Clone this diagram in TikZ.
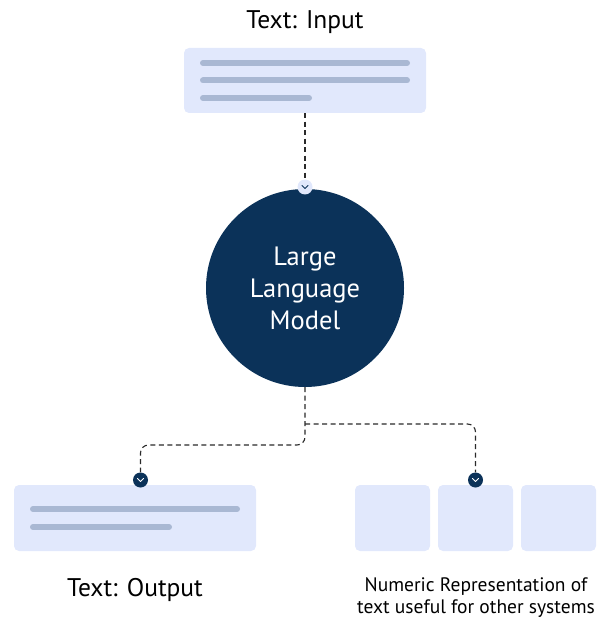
\documentclass[tikz,border=0pt]{standalone}
\usepackage{fontspec}
\setmainfont{PT Sans}
\definecolor{boxfill}{HTML}{E1E8FC}
\definecolor{barcol}{HTML}{A9B8D3}
\definecolor{navy}{HTML}{0B3259}
\definecolor{dashcol}{HTML}{2A2A2A}
\begin{document}
\begin{tikzpicture}[x=1pt,y=-1pt,
  panel/.style={rectangle, rounded corners=5pt, fill=boxfill, inner sep=0pt},
  bar/.style={line width=6pt, line cap=round, barcol},
  conn/.style={draw=dashcol, line width=1.1pt, dash pattern=on 5pt off 3.5pt, rounded corners=8pt},
  chevdark/.style={circle, fill=navy, minimum size=15pt, inner sep=0pt},
  chevlight/.style={circle, fill=boxfill, minimum size=15pt, inner sep=0pt},
  lbl/.style={font=\fontsize{25.5}{30}\selectfont, text=black}
]
\useasboundingbox (0,0) rectangle (596,620);
% title
\node[lbl] (tin) at (305,22.5) {Text: Input};
% input panel
\node[panel, minimum width=242pt, minimum height=65pt] (inbox) at (305,80.5) {};
\draw[bar] (203,63) -- (407,63);
\draw[bar] (203,80.5) -- (407,80.5);
\draw[bar] (203,98) -- (309,98);
% LLM circle
\node[circle, fill=navy, minimum size=198pt, inner sep=0pt, align=center, text=white,
      font=\fontsize{26.5}{32}\selectfont] (llm) at (305,288) {Large\\Language\\Model};
% top chevron
\node[chevlight] (cin) at (305,187) {};
\draw[navy, line width=1pt, line cap=round, line join=round] ([xshift=-3pt,yshift=1.5pt]cin.center) -- ([yshift=-1.5pt]cin.center) -- ([xshift=3pt,yshift=1.5pt]cin.center);
\draw[conn] (inbox.south) -- (cin.north);
% output panel
\node[panel, minimum width=242pt, minimum height=66pt] (outbox) at (135,518) {};
\draw[bar] (33,509) -- (237,509);
\draw[bar] (33,527) -- (169,527);
\node[lbl] (tout) at (135,590) {Text: Output};
% numeric squares
\node[panel, minimum width=75pt, minimum height=66pt] (sq1) at (392.5,518) {};
\node[panel, minimum width=75pt, minimum height=66pt] (sq2) at (475.5,518) {};
\node[panel, minimum width=75pt, minimum height=66pt] (sq3) at (558.5,518) {};
\node[align=center, font=\fontsize{19.5}{22}\selectfont] (tnum) at (476,598) {Numeric Representation of\\text useful for other systems};
% bottom chevrons
\node[chevdark] (cl) at (140.5,480) {};
\node[chevdark] (cr) at (475.5,480) {};
\foreach \c in {cl,cr}
  \draw[white, line width=1pt, line cap=round, line join=round] ([xshift=-3pt,yshift=1.5pt]\c.center) -- ([yshift=-1.5pt]\c.center) -- ([xshift=3pt,yshift=1.5pt]\c.center);
% connectors
\draw[conn] (llm.south) -- (llm.south |- 0,445) -- (cl.north |- 0,445) -- (cl.north);
\draw[conn] (llm.south |- 0,424) -- (cr.north |- 0,424) -- (cr.north);
\end{tikzpicture}
\end{document}
